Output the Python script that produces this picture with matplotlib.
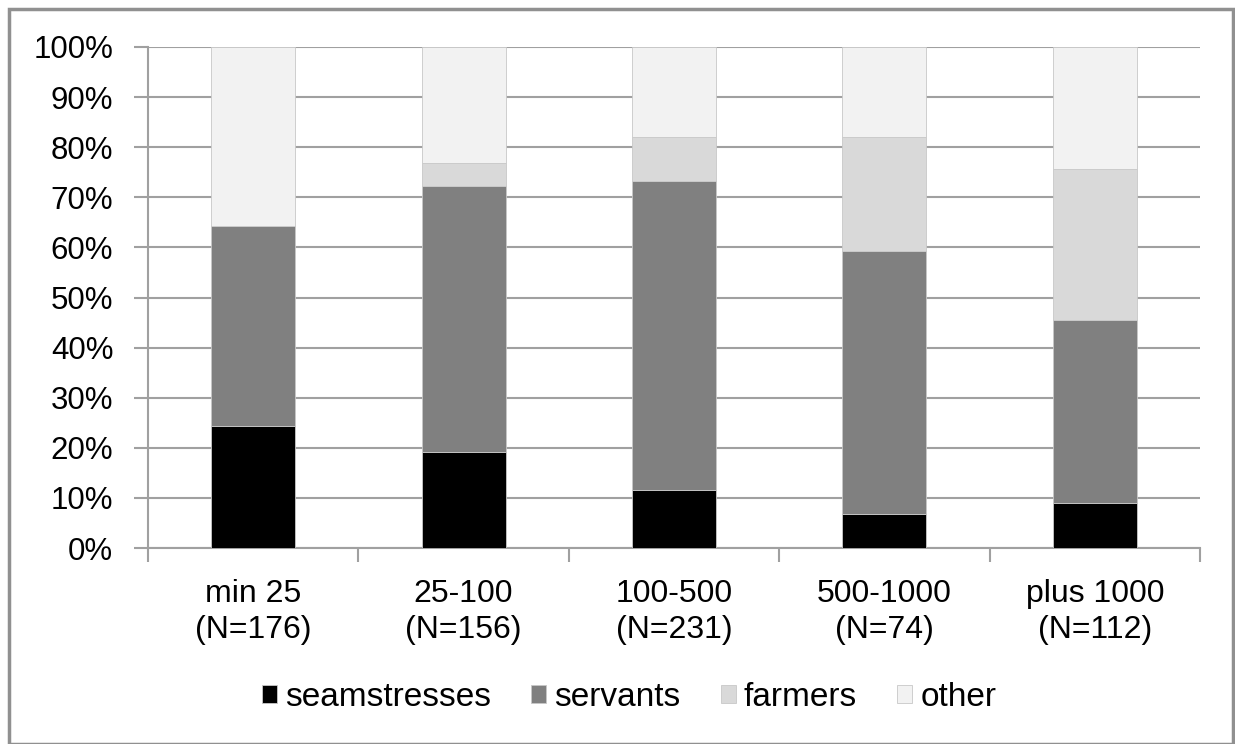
import numpy as np
import matplotlib
matplotlib.use("Agg")
import matplotlib.pyplot as plt
from matplotlib.patches import Rectangle
from matplotlib.ticker import PercentFormatter

# categorias y porcentajes
categorias = ["min 25\n(N=176)", "25-100\n(N=156)", "100-500\n(N=231)",
              "500-1000\n(N=74)", "plus 1000\n(N=112)"]
seamstresses = [24.3, 19.1, 11.6, 6.7, 9.0]
servants = [40.0, 53.2, 61.7, 52.6, 36.5]
farmers = [0.0, 4.6, 8.8, 22.8, 30.2]
other = [35.7, 23.1, 17.9, 17.9, 24.3]

series = [("seamstresses", seamstresses, "#000000"),
          ("servants", servants, "#808080"),
          ("farmers", farmers, "#d9d9d9"),
          ("other", other, "#f2f2f2")]

plt.rcParams['font.family'] = ['Liberation Sans', 'DejaVu Sans']

fig = plt.figure(figsize=(12.35, 7.44), dpi=100)
ax = fig.add_axes([148/1235, 1 - 548/744, (1200 - 148)/1235, (548 - 47)/744])

x = np.arange(len(categorias))
base = np.zeros(len(categorias))
for nombre, valores, color in series:
    valores = np.array(valores)
    ax.bar(x, valores, 0.4, bottom=base, color=color, label=nombre,
           edgecolor="#c8c8c8", linewidth=0.6, zorder=3)
    base += valores

ax.set_xlim(-0.5, len(categorias) - 0.5)
ax.set_ylim(0, 100)
ax.set_yticks(np.arange(0, 101, 10))
ax.yaxis.set_major_formatter(PercentFormatter(decimals=0))
ax.yaxis.grid(True, color="#a0a0a0", linewidth=1.5, zorder=0)
ax.set_axisbelow(True)

ax.set_xticks(x)
ax.set_xticklabels(categorias, linespacing=1.27)
ax.set_xticks(np.arange(-0.5, len(categorias), 1), minor=True)
ax.tick_params(axis="x", which="major", length=0, pad=22, labelsize=23)
ax.tick_params(axis="x", which="minor", length=10, width=1.5, color="#a0a0a0")
ax.tick_params(axis="y", length=10, width=1.5, color="#a0a0a0", labelsize=22.5, pad=15)

for lado in ["top", "right"]:
    ax.spines[lado].set_visible(False)
for lado in ["left", "bottom"]:
    ax.spines[lado].set_color("#a0a0a0")
    ax.spines[lado].set_linewidth(1.5)

fig.legend(loc="center", bbox_to_anchor=(629/1235, 1 - 697/744), ncol=4,
           frameon=False, fontsize=24, handlelength=0.45, handleheight=0.45,
           handletextpad=0.25, columnspacing=1.2)

# marco exterior del grafico
fig.patches.append(Rectangle((9/1235, 0), (1233 - 9)/1235, 1 - 9/744,
                             transform=fig.transFigure, fill=False,
                             edgecolor="#909090", linewidth=2.5))

fig.savefig("out.png", dpi=100)
